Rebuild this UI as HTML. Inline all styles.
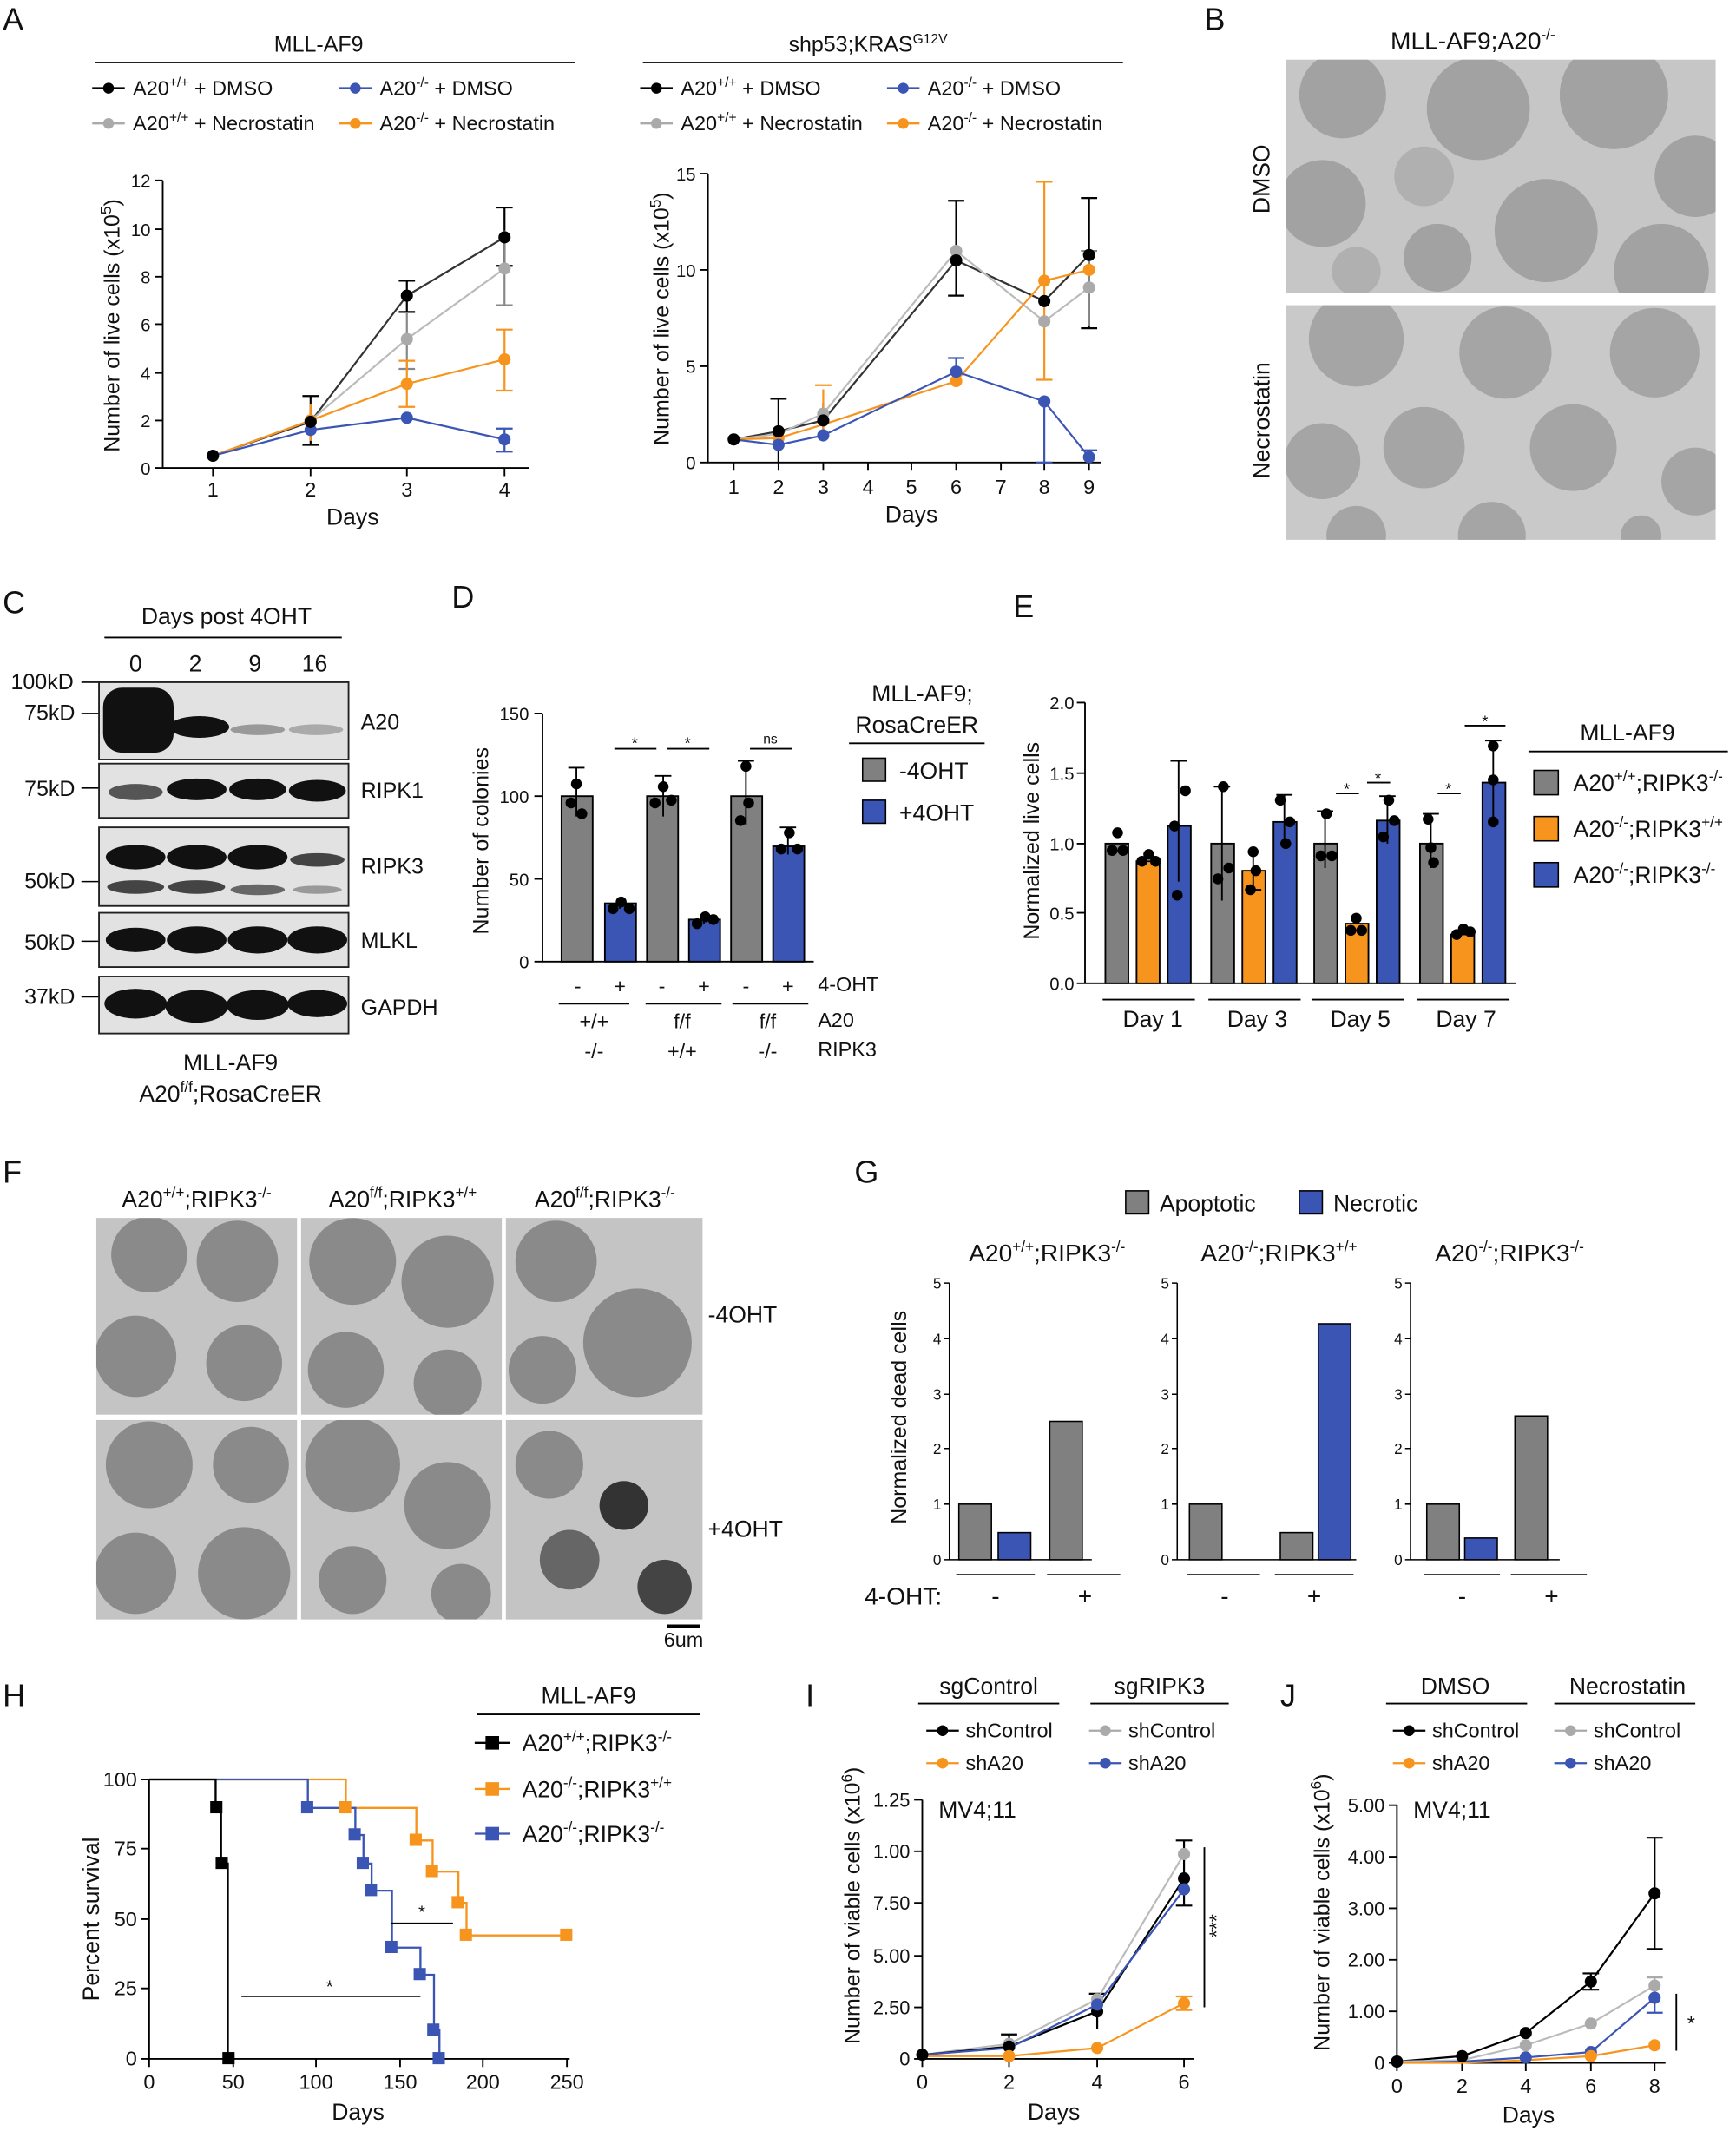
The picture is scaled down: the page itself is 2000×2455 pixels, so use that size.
<!DOCTYPE html>
<html><head><meta charset="utf-8"><style>
html,body{margin:0;padding:0;background:#fff}
svg{display:block}
text{font-family:"Liberation Sans",Arial,sans-serif;fill:#111}
</style></head><body>
<svg width="2000" height="2455" viewBox="0 0 1280 1571.2" xmlns="http://www.w3.org/2000/svg">
<defs>
<clipPath id="cb1"><rect x="948" y="44" width="317" height="172"/></clipPath>
<clipPath id="cb2"><rect x="948" y="225" width="317" height="173"/></clipPath>
<clipPath id="cf"><path d="M71 898h148v145H71zM222 898h148v145H222zM373 898h145v145H373zM71 1047h148v147H71zM222 1047h148v147H222zM373 1047h145v147H373z"/></clipPath>
</defs>
<rect width="1280" height="1572" fill="#fff"/>
<g font-size="23">
<text x="2" y="22">A</text><text x="888" y="22">B</text><text x="2" y="452">C</text>
<text x="333" y="448">D</text><text x="747" y="455">E</text><text x="2" y="872">F</text>
<text x="630" y="872">G</text><text x="2" y="1258">H</text><text x="594" y="1258">I</text><text x="944" y="1258">J</text>
</g>

<!-- ===== A1 ===== -->
<g font-size="15">
<text x="235" y="38" text-anchor="middle" font-size="16">MLL-AF9</text>
<line x1="70" y1="46" x2="424" y2="46" stroke="#000" stroke-width="1.2"/>
<line x1="68" y1="65" x2="92" y2="65" stroke="#000" stroke-width="1.5"/><circle cx="80" cy="65" r="4" fill="#000"/>
<text x="98" y="70">A20<tspan font-size="10" dy="-6">+/+</tspan><tspan dy="6"> + DMSO</tspan></text>
<line x1="250" y1="65" x2="274" y2="65" stroke="#3a55b4" stroke-width="1.5"/><circle cx="262" cy="65" r="4" fill="#3a55b4"/>
<text x="280" y="70">A20<tspan font-size="10" dy="-6">-/-</tspan><tspan dy="6"> + DMSO</tspan></text>
<line x1="68" y1="91" x2="92" y2="91" stroke="#aaa" stroke-width="1.5"/><circle cx="80" cy="91" r="4" fill="#aaa"/>
<text x="98" y="96">A20<tspan font-size="10" dy="-6">+/+</tspan><tspan dy="6"> + Necrostatin</tspan></text>
<line x1="250" y1="91" x2="274" y2="91" stroke="#f7941d" stroke-width="1.5"/><circle cx="262" cy="91" r="4" fill="#f7941d"/>
<text x="280" y="96">A20<tspan font-size="10" dy="-6">-/-</tspan><tspan dy="6"> + Necrostatin</tspan></text>
</g>
<g stroke="#000" stroke-width="1.2" fill="none">
<path d="M120 133V345H390"/>
<path d="M114 345H120M114 310H120M114 275H120M114 239H120M114 204H120M114 169H120M114 133H120"/>
<path d="M157 345V351M229 345V351M300 345V351M372 345V351"/>
</g>
<g font-size="13" text-anchor="end">
<text x="111" y="350">0</text><text x="111" y="315">2</text><text x="111" y="280">4</text><text x="111" y="244">6</text><text x="111" y="209">8</text><text x="111" y="174">10</text><text x="111" y="138">12</text>
</g>
<g font-size="15" text-anchor="middle"><text x="157" y="366">1</text><text x="229" y="366">2</text><text x="300" y="366">3</text><text x="372" y="366">4</text>
<text x="260" y="387" font-size="17">Days</text></g>
<text transform="translate(88,240) rotate(-90)" font-size="16" text-anchor="middle">Number of live cells (x10<tspan font-size="11" dy="-6">5</tspan><tspan dy="6">)</tspan></text>
<g stroke-width="1.4" fill="none">
<path d="M229 292V328M300 207V230M372 153V196M223 292h12M223 328h12M294 207h12M294 230h12M366 153h12M366 196h12" stroke="#000"/>
<path d="M300 230V272M372 170V225M294 272h12M366 225h12" stroke="#888"/>
<path d="M229 298V325M372 243V288M366 243h12M366 288h12M294 266h12M294 300h12M300 266V300" stroke="#f7941d"/>
<path d="M372 316V333M366 316h12M366 333h12" stroke="#3a55b4"/>
<polyline points="157,336 229,311 300,218 372,175" stroke="#333"/>
<polyline points="157,336 229,310 300,250 372,198" stroke="#bbb"/>
<polyline points="157,336 229,310 300,283 372,265" stroke="#f7941d"/>
<polyline points="157,336 229,317 300,308 372,324" stroke="#3a55b4"/>
</g>
<g fill="#aaa"><circle cx="300" cy="250" r="4.5"/><circle cx="372" cy="198" r="4.5"/><circle cx="229" cy="310" r="4.5"/></g>
<g fill="#f7941d"><circle cx="300" cy="283" r="4.5"/><circle cx="372" cy="265" r="4.5"/><circle cx="229" cy="310" r="4.5"/></g>
<g fill="#3a55b4"><circle cx="300" cy="308" r="4.5"/><circle cx="372" cy="324" r="4.5"/><circle cx="229" cy="317" r="4.5"/></g>
<g fill="#000"><circle cx="157" cy="336" r="4.5"/><circle cx="229" cy="311" r="4.5"/><circle cx="300" cy="218" r="4.5"/><circle cx="372" cy="175" r="4.5"/></g>

<!-- ===== A2 ===== -->
<g font-size="15">
<text x="640" y="38" text-anchor="middle" font-size="16">shp53;KRAS<tspan font-size="10" dy="-6">G12V</tspan></text>
<line x1="474" y1="46" x2="828" y2="46" stroke="#000" stroke-width="1.2"/>
<line x1="472" y1="65" x2="496" y2="65" stroke="#000" stroke-width="1.5"/><circle cx="484" cy="65" r="4" fill="#000"/>
<text x="502" y="70">A20<tspan font-size="10" dy="-6">+/+</tspan><tspan dy="6"> + DMSO</tspan></text>
<line x1="654" y1="65" x2="678" y2="65" stroke="#3a55b4" stroke-width="1.5"/><circle cx="666" cy="65" r="4" fill="#3a55b4"/>
<text x="684" y="70">A20<tspan font-size="10" dy="-6">-/-</tspan><tspan dy="6"> + DMSO</tspan></text>
<line x1="472" y1="91" x2="496" y2="91" stroke="#aaa" stroke-width="1.5"/><circle cx="484" cy="91" r="4" fill="#aaa"/>
<text x="502" y="96">A20<tspan font-size="10" dy="-6">+/+</tspan><tspan dy="6"> + Necrostatin</tspan></text>
<line x1="654" y1="91" x2="678" y2="91" stroke="#f7941d" stroke-width="1.5"/><circle cx="666" cy="91" r="4" fill="#f7941d"/>
<text x="684" y="96">A20<tspan font-size="10" dy="-6">-/-</tspan><tspan dy="6"> + Necrostatin</tspan></text>
</g>
<g stroke="#000" stroke-width="1.2" fill="none">
<path d="M522 128V341H812"/>
<path d="M516 341H522M516 270H522M516 199H522M516 128H522"/>
<path d="M541 341v6M574 341v6M607 341v6M640 341v6M672 341v6M705 341v6M738 341v6M770 341v6M803 341v6"/>
</g>
<g font-size="13" text-anchor="end"><text x="513" y="346">0</text><text x="513" y="275">5</text><text x="513" y="204">10</text><text x="513" y="133">15</text></g>
<g font-size="15" text-anchor="middle"><text x="541" y="364">1</text><text x="574" y="364">2</text><text x="607" y="364">3</text><text x="640" y="364">4</text><text x="672" y="364">5</text><text x="705" y="364">6</text><text x="738" y="364">7</text><text x="770" y="364">8</text><text x="803" y="364">9</text>
<text x="672" y="385" font-size="17">Days</text></g>
<text transform="translate(493,235) rotate(-90)" font-size="16" text-anchor="middle">Number of live cells (x10<tspan font-size="11" dy="-6">5</tspan><tspan dy="6">)</tspan></text>
<g stroke-width="1.4" fill="none">
<path d="M574 294V341M607 297V325M705 148V218M803 146V242M568 294h12M699 148h12M699 218h12M797 146h12M797 242h12" stroke="#000"/>
<path d="M607 287V320M770 134V280M601 284h12M764 134h12M764 280h12" stroke="#f7941d"/>
<path d="M770 296V341M705 264V283M803 332V341M764 341h12M699 264h12M797 332h12" stroke="#3a55b4"/>
<path d="M803 185V240M797 185h12" stroke="#888"/>
<polyline points="541,324 574,318 607,310 705,192 770,222 803,188" stroke="#333"/>
<polyline points="541,324 574,320 607,305 705,185 770,237 803,212" stroke="#bbb"/>
<polyline points="541,324 574,323 607,313 705,281 770,207 803,199" stroke="#f7941d"/>
<polyline points="541,324 574,328 607,321 705,274 770,296 803,337" stroke="#3a55b4"/>
</g>
<g fill="#aaa"><circle cx="607" cy="305" r="4.5"/><circle cx="705" cy="185" r="4.5"/><circle cx="770" cy="237" r="4.5"/><circle cx="803" cy="212" r="4.5"/></g>
<g fill="#f7941d"><circle cx="574" cy="323" r="4.5"/><circle cx="705" cy="281" r="4.5"/><circle cx="770" cy="207" r="4.5"/><circle cx="803" cy="199" r="4.5"/></g>
<g fill="#3a55b4"><circle cx="574" cy="328" r="4.5"/><circle cx="607" cy="321" r="4.5"/><circle cx="705" cy="274" r="4.5"/><circle cx="770" cy="296" r="4.5"/><circle cx="803" cy="337" r="4.5"/></g>
<g fill="#000"><circle cx="541" cy="324" r="4.5"/><circle cx="574" cy="318" r="4.5"/><circle cx="607" cy="310" r="4.5"/><circle cx="705" cy="192" r="4.5"/><circle cx="770" cy="222" r="4.5"/><circle cx="803" cy="188" r="4.5"/></g>

<!-- ===== B ===== -->
<text x="1086" y="36" font-size="18" text-anchor="middle">MLL-AF9;A20<tspan font-size="11" dy="-7">-/-</tspan></text>
<text transform="translate(936,132) rotate(-90)" font-size="17" text-anchor="middle">DMSO</text>
<text transform="translate(936,310) rotate(-90)" font-size="17" text-anchor="middle">Necrostatin</text>
<rect x="948" y="44" width="317" height="172" fill="#c6c6c6"/>
<g fill="#a2a2a2" clip-path="url(#cb1)"><circle cx="990" cy="70" r="32"/><circle cx="1090" cy="80" r="38"/><circle cx="1190" cy="70" r="40"/><circle cx="1250" cy="130" r="30"/><circle cx="975" cy="150" r="32"/><circle cx="1140" cy="170" r="38"/><circle cx="1225" cy="200" r="35"/><circle cx="1060" cy="190" r="25"/><circle cx="1050" cy="130" r="22" fill="#b0b0b0"/><circle cx="1000" cy="200" r="18" fill="#b0b0b0"/></g>
<rect x="948" y="225" width="317" height="173" fill="#c9c9c9"/>
<g fill="#a5a5a5" clip-path="url(#cb2)"><circle cx="1000" cy="250" r="35"/><circle cx="1110" cy="260" r="34"/><circle cx="1220" cy="260" r="33"/><circle cx="975" cy="340" r="28"/><circle cx="1050" cy="330" r="30"/><circle cx="1160" cy="330" r="32"/><circle cx="1250" cy="355" r="25"/><circle cx="1000" cy="395" r="22"/><circle cx="1100" cy="395" r="25"/><circle cx="1210" cy="395" r="15"/></g>

<!-- ===== C ===== -->
<text x="167" y="460" font-size="17" text-anchor="middle">Days post 4OHT</text>
<line x1="77" y1="470" x2="252" y2="470" stroke="#000" stroke-width="1.2"/>
<g font-size="17" text-anchor="middle"><text x="100" y="495">0</text><text x="144" y="495">2</text><text x="188" y="495">9</text><text x="232" y="495">16</text></g>
<g font-size="16">
<text x="8" y="508">100kD</text><text x="18" y="531">75kD</text><text x="18" y="587">75kD</text><text x="18" y="655">50kD</text><text x="18" y="700">50kD</text><text x="18" y="740">37kD</text>
<text x="266" y="538">A20</text><text x="266" y="588">RIPK1</text><text x="266" y="644">RIPK3</text><text x="266" y="699">MLKL</text><text x="266" y="748">GAPDH</text>
</g>
<g stroke="#000" stroke-width="1"><path d="M60 503h13M60 526h13M60 581h13M60 650h13M60 694h13M60 735h13"/></g>
<g stroke="#222" stroke-width="1.2" fill="#e2e2e2">
<rect x="73" y="503" width="184" height="57"/><rect x="73" y="563" width="184" height="40"/><rect x="73" y="610" width="184" height="58"/><rect x="73" y="673" width="184" height="40"/><rect x="73" y="720" width="184" height="42"/>
</g>
<g fill="#111">
<rect x="76" y="507" width="52" height="48" rx="14"/><ellipse cx="147" cy="536" rx="22" ry="8"/><ellipse cx="190" cy="538" rx="20" ry="4" fill="#999"/><ellipse cx="233" cy="538" rx="20" ry="4" fill="#aaa"/>
<ellipse cx="100" cy="584" rx="20" ry="6" fill="#555"/><ellipse cx="145" cy="582" rx="22" ry="8"/><ellipse cx="190" cy="582" rx="21" ry="8"/><ellipse cx="234" cy="583" rx="21" ry="8"/>
<ellipse cx="100" cy="632" rx="22" ry="9"/><ellipse cx="145" cy="632" rx="22" ry="9"/><ellipse cx="190" cy="632" rx="22" ry="9"/><ellipse cx="234" cy="634" rx="20" ry="5" fill="#444"/>
<ellipse cx="100" cy="654" rx="21" ry="5" fill="#444"/><ellipse cx="145" cy="654" rx="21" ry="5" fill="#444"/><ellipse cx="190" cy="656" rx="20" ry="4" fill="#666"/><ellipse cx="234" cy="656" rx="18" ry="3" fill="#999"/>
<ellipse cx="100" cy="693" rx="22" ry="9"/><ellipse cx="145" cy="693" rx="22" ry="10"/><ellipse cx="190" cy="693" rx="22" ry="10"/><ellipse cx="234" cy="693" rx="22" ry="10"/>
<ellipse cx="100" cy="740" rx="23" ry="11"/><ellipse cx="145" cy="742" rx="23" ry="12"/><ellipse cx="190" cy="741" rx="23" ry="11"/><ellipse cx="234" cy="740" rx="22" ry="10"/>
</g>
<text x="170" y="789" font-size="17" text-anchor="middle">MLL-AF9</text>
<text x="170" y="812" font-size="17" text-anchor="middle">A20<tspan font-size="11" dy="-7">f/f</tspan><tspan dy="7">;RosaCreER</tspan></text>

<!-- ===== D ===== -->
<g stroke="#000" stroke-width="1.2" fill="none">
<path d="M400 526V709H600M394 709h6M394 648h6M394 587h6M394 526h6"/>
</g>
<g font-size="13" text-anchor="end"><text x="390" y="714">0</text><text x="390" y="653">50</text><text x="390" y="592">100</text><text x="390" y="531">150</text></g>
<text transform="translate(360,620) rotate(-90)" font-size="16" text-anchor="middle">Number of colonies</text>
<g stroke="#000" stroke-width="1.2">
<rect x="414" y="587" width="23" height="122" fill="#808080"/><rect x="446" y="666" width="23" height="43" fill="#3a55b4"/>
<rect x="477" y="587" width="23" height="122" fill="#808080"/><rect x="508" y="678" width="23" height="31" fill="#3a55b4"/>
<rect x="539" y="587" width="23" height="122" fill="#808080"/><rect x="570" y="624" width="23" height="85" fill="#3a55b4"/>
<path d="M425 566V602M419 566h12M457 662V670M489 572V602M483 572h12M519 674V681M550 561V608M544 561h12M581 610V630M575 610h12M453 552h31M492 552h31M553 552h31" fill="none"/>
</g>
<g fill="#000"><circle cx="421" cy="592" r="4"/><circle cx="429" cy="600" r="4"/><circle cx="425" cy="578" r="4"/><circle cx="452" cy="670" r="4"/><circle cx="458" cy="665" r="4"/><circle cx="464" cy="670" r="4"/>
<circle cx="483" cy="592" r="4"/><circle cx="495" cy="590" r="4"/><circle cx="489" cy="580" r="4"/><circle cx="514" cy="681" r="4"/><circle cx="520" cy="676" r="4"/><circle cx="526" cy="678" r="4"/>
<circle cx="546" cy="605" r="4"/><circle cx="552" cy="592" r="4"/><circle cx="550" cy="565" r="4"/><circle cx="576" cy="626" r="4"/><circle cx="582" cy="614" r="4"/><circle cx="588" cy="626" r="4"/></g>
<g font-size="12" text-anchor="middle"><text x="468" y="552">*</text><text x="507" y="552">*</text><text x="568" y="548" font-size="10">ns</text></g>
<g font-size="15" text-anchor="middle">
<text x="426" y="732">-</text><text x="457" y="732">+</text><text x="488" y="732">-</text><text x="519" y="732">+</text><text x="550" y="732">-</text><text x="581" y="732">+</text>
<text x="438" y="758">+/+</text><text x="503" y="758">f/f</text><text x="566" y="758">f/f</text>
<text x="438" y="780">-/-</text><text x="503" y="780">+/+</text><text x="566" y="780">-/-</text>
</g>
<g font-size="15"><text x="603" y="731">4-OHT</text><text x="603" y="757">A20</text><text x="603" y="779">RIPK3</text></g>
<g stroke="#000" stroke-width="1.2"><path d="M412 740h52M476 740h56M540 740h56"/></g>
<text x="680" y="517" font-size="17" text-anchor="middle">MLL-AF9;</text>
<text x="676" y="540" font-size="17" text-anchor="middle">RosaCreER</text>
<line x1="626" y1="548" x2="726" y2="548" stroke="#000" stroke-width="1.2"/>
<rect x="636" y="559" width="17" height="17" fill="#808080" stroke="#000"/><text x="663" y="574" font-size="17">-4OHT</text>
<rect x="636" y="590" width="17" height="17" fill="#3a55b4" stroke="#000"/><text x="663" y="605" font-size="17">+4OHT</text>

<!-- ===== E ===== -->
<g stroke="#000" stroke-width="1.2" fill="none"><path d="M800 518V725H1118M794 725h6M794 673h6M794 622h6M794 570h6M794 518h6"/></g>
<g font-size="13" text-anchor="end"><text x="792" y="730">0.0</text><text x="792" y="678">0.5</text><text x="792" y="627">1.0</text><text x="792" y="575">1.5</text><text x="792" y="523">2.0</text></g>
<text transform="translate(766,620) rotate(-90)" font-size="16" text-anchor="middle">Normalized live cells</text>
<g stroke="#000" stroke-width="1.2">
<rect x="815" y="622" width="17" height="103" fill="#808080"/><rect x="838" y="635" width="17" height="90" fill="#f7941d"/><rect x="861" y="609" width="17" height="116" fill="#3a55b4"/>
<rect x="893" y="622" width="17" height="103" fill="#808080"/><rect x="916" y="642" width="17" height="83" fill="#f7941d"/><rect x="939" y="606" width="17" height="119" fill="#3a55b4"/>
<rect x="969" y="622" width="17" height="103" fill="#808080"/><rect x="992" y="681" width="17" height="44" fill="#f7941d"/><rect x="1015" y="605" width="17" height="120" fill="#3a55b4"/>
<rect x="1047" y="622" width="17" height="103" fill="#808080"/><rect x="1070" y="689" width="17" height="36" fill="#f7941d"/><rect x="1093" y="577" width="17" height="148" fill="#3a55b4"/>
<path fill="none" d="M869 561V650M863 561h12M901 580V664M895 580h12M924 628V656M918 656h12M947 586V622M941 586h12M977 598V640M971 598h12M1023 587V622M1017 587h12M1055 600V640M1049 600h12M1101 546V610M1095 546h12M985 585h17M1008 577h17M1060 585h17M1080 535h30"/>
</g>
<g fill="#000">
<circle cx="820" cy="627" r="4"/><circle cx="828" cy="627" r="4"/><circle cx="824" cy="614" r="4"/><circle cx="842" cy="635" r="4"/><circle cx="852" cy="635" r="4"/><circle cx="847" cy="630" r="4"/><circle cx="868" cy="660" r="4"/><circle cx="874" cy="583" r="4"/><circle cx="866" cy="609" r="4"/>
<circle cx="898" cy="648" r="4"/><circle cx="902" cy="580" r="4"/><circle cx="906" cy="640" r="4"/><circle cx="924" cy="628" r="4"/><circle cx="922" cy="656" r="4"/><circle cx="926" cy="642" r="4"/><circle cx="944" cy="590" r="4"/><circle cx="948" cy="622" r="4"/><circle cx="951" cy="606" r="4"/>
<circle cx="974" cy="631" r="4"/><circle cx="982" cy="631" r="4"/><circle cx="978" cy="600" r="4"/><circle cx="996" cy="686" r="4"/><circle cx="1004" cy="686" r="4"/><circle cx="1000" cy="677" r="4"/><circle cx="1020" cy="617" r="4"/><circle cx="1024" cy="590" r="4"/><circle cx="1028" cy="605" r="4"/>
<circle cx="1053" cy="604" r="4"/><circle cx="1057" cy="636" r="4"/><circle cx="1055" cy="625" r="4"/><circle cx="1074" cy="689" r="4"/><circle cx="1079" cy="685" r="4"/><circle cx="1084" cy="687" r="4"/><circle cx="1101" cy="550" r="4"/><circle cx="1101" cy="575" r="4"/><circle cx="1101" cy="606" r="4"/>
</g>
<g font-size="12" text-anchor="middle"><text x="993" y="586">*</text><text x="1016" y="578">*</text><text x="1068" y="586">*</text><text x="1095" y="536">*</text></g>
<g font-size="17" text-anchor="middle"><text x="850" y="757">Day 1</text><text x="927" y="757">Day 3</text><text x="1003" y="757">Day 5</text><text x="1081" y="757">Day 7</text></g>
<g stroke="#000" stroke-width="1.2"><path d="M813 737h68M891 737h68M967 737h68M1045 737h68"/></g>
<text x="1200" y="546" font-size="17" text-anchor="middle">MLL-AF9</text>
<line x1="1127" y1="554" x2="1274" y2="554" stroke="#000" stroke-width="1.2"/>
<rect x="1131" y="568" width="18" height="18" fill="#808080" stroke="#000"/><text x="1160" y="583" font-size="17">A20<tspan font-size="11" dy="-7">+/+</tspan><tspan dy="7">;RIPK3</tspan><tspan font-size="11" dy="-7">-/-</tspan></text>
<rect x="1131" y="602" width="18" height="18" fill="#f7941d" stroke="#000"/><text x="1160" y="617" font-size="17">A20<tspan font-size="11" dy="-7">-/-</tspan><tspan dy="7">;RIPK3</tspan><tspan font-size="11" dy="-7">+/+</tspan></text>
<rect x="1131" y="636" width="18" height="18" fill="#3a55b4" stroke="#000"/><text x="1160" y="651" font-size="17">A20<tspan font-size="11" dy="-7">-/-</tspan><tspan dy="7">;RIPK3</tspan><tspan font-size="11" dy="-7">-/-</tspan></text>

<!-- ===== F ===== -->
<g font-size="17" text-anchor="middle">
<text x="145" y="890">A20<tspan font-size="11" dy="-7">+/+</tspan><tspan dy="7">;RIPK3</tspan><tspan font-size="11" dy="-7">-/-</tspan></text>
<text x="297" y="890">A20<tspan font-size="11" dy="-7">f/f</tspan><tspan dy="7">;RIPK3</tspan><tspan font-size="11" dy="-7">+/+</tspan></text>
<text x="446" y="890">A20<tspan font-size="11" dy="-7">f/f</tspan><tspan dy="7">;RIPK3</tspan><tspan font-size="11" dy="-7">-/-</tspan></text>
</g>
<g fill="#c4c4c4"><rect x="71" y="898" width="148" height="145"/><rect x="222" y="898" width="148" height="145"/><rect x="373" y="898" width="145" height="145"/><rect x="71" y="1047" width="148" height="147"/><rect x="222" y="1047" width="148" height="147"/><rect x="373" y="1047" width="145" height="147"/></g>
<g fill="#8a8a8a" clip-path="url(#cf)">
<circle cx="110" cy="925" r="28"/><circle cx="175" cy="930" r="30"/><circle cx="100" cy="1000" r="30"/><circle cx="180" cy="1005" r="28"/>
<circle cx="260" cy="930" r="32"/><circle cx="330" cy="945" r="34"/><circle cx="255" cy="1010" r="28"/><circle cx="330" cy="1020" r="25"/>
<circle cx="410" cy="930" r="30"/><circle cx="470" cy="990" r="40"/><circle cx="400" cy="1010" r="25"/>
<circle cx="110" cy="1080" r="32"/><circle cx="185" cy="1080" r="28"/><circle cx="100" cy="1160" r="30"/><circle cx="180" cy="1160" r="34"/>
<circle cx="260" cy="1080" r="35"/><circle cx="330" cy="1110" r="32"/><circle cx="260" cy="1165" r="25"/><circle cx="340" cy="1175" r="22"/>
<circle cx="405" cy="1080" r="25"/><circle cx="460" cy="1110" r="18" fill="#333"/><circle cx="420" cy="1150" r="22" fill="#666"/><circle cx="490" cy="1170" r="20" fill="#444"/>
</g>
<g font-size="17"><text x="522" y="975">-4OHT</text><text x="522" y="1133">+4OHT</text></g>
<line x1="492" y1="1199" x2="516" y2="1199" stroke="#000" stroke-width="2.5"/>
<text x="504" y="1214" font-size="15" text-anchor="middle">6um</text>

<!-- ===== G ===== -->
<rect x="830" y="878" width="17" height="17" fill="#808080" stroke="#000"/><text x="855" y="893" font-size="17">Apoptotic</text>
<rect x="958" y="878" width="17" height="17" fill="#3a55b4" stroke="#000"/><text x="983" y="893" font-size="17">Necrotic</text>
<g font-size="18" text-anchor="middle">
<text x="772" y="930">A20<tspan font-size="11" dy="-7">+/+</tspan><tspan dy="7">;RIPK3</tspan><tspan font-size="11" dy="-7">-/-</tspan></text>
<text x="943" y="930">A20<tspan font-size="11" dy="-7">-/-</tspan><tspan dy="7">;RIPK3</tspan><tspan font-size="11" dy="-7">+/+</tspan></text>
<text x="1113" y="930">A20<tspan font-size="11" dy="-7">-/-</tspan><tspan dy="7">;RIPK3</tspan><tspan font-size="11" dy="-7">-/-</tspan></text>
</g>
<text transform="translate(668,1045) rotate(-90)" font-size="16" text-anchor="middle">Normalized dead cells</text>
<g stroke="#000" stroke-width="1" fill="none">
<path d="M700 946V1150H805M696 1150h4M696 1109h4M696 1068h4M696 1028h4M696 987h4M696 946h4"/>
<path d="M868 946V1150H1000M864 1150h4M864 1109h4M864 1068h4M864 1028h4M864 987h4M864 946h4"/>
<path d="M1040 946V1150H1150M1036 1150h4M1036 1109h4M1036 1068h4M1036 1028h4M1036 987h4M1036 946h4"/>
</g>
<g font-size="11" text-anchor="end">
<text x="694" y="1154">0</text><text x="694" y="1113">1</text><text x="694" y="1072">2</text><text x="694" y="1032">3</text><text x="694" y="991">4</text><text x="694" y="950">5</text>
<text x="862" y="1154">0</text><text x="862" y="1113">1</text><text x="862" y="1072">2</text><text x="862" y="1032">3</text><text x="862" y="991">4</text><text x="862" y="950">5</text>
<text x="1034" y="1154">0</text><text x="1034" y="1113">1</text><text x="1034" y="1072">2</text><text x="1034" y="1032">3</text><text x="1034" y="991">4</text><text x="1034" y="950">5</text>
</g>
<g stroke="#000" stroke-width="1">
<rect x="707" y="1109" width="24" height="41" fill="#808080"/><rect x="736" y="1130" width="24" height="20" fill="#3a55b4"/><rect x="774" y="1048" width="24" height="102" fill="#808080"/>
<rect x="877" y="1109" width="24" height="41" fill="#808080"/><rect x="944" y="1130" width="24" height="20" fill="#808080"/><rect x="972" y="976" width="24" height="174" fill="#3a55b4"/>
<rect x="1052" y="1109" width="24" height="41" fill="#808080"/><rect x="1080" y="1134" width="24" height="16" fill="#3a55b4"/><rect x="1117" y="1044" width="24" height="106" fill="#808080"/>
<path d="M705 1161h58M772 1161h54M875 1161h54M940 1161h58M1050 1161h56M1114 1161h56"/>
</g>
<g font-size="18" text-anchor="middle">
<text x="666" y="1183">4-OHT:</text><text x="734" y="1183">-</text><text x="800" y="1183">+</text><text x="903" y="1183">-</text><text x="969" y="1183">+</text><text x="1078" y="1183">-</text><text x="1144" y="1183">+</text>
</g>

<!-- ===== H ===== -->
<text x="434" y="1256" font-size="17" text-anchor="middle">MLL-AF9</text>
<line x1="352" y1="1264" x2="516" y2="1264" stroke="#000" stroke-width="1.2"/>
<line x1="350" y1="1285" x2="376" y2="1285" stroke="#000" stroke-width="1.5"/><rect x="358" y="1280" width="10" height="10" fill="#000"/>
<text x="385" y="1291" font-size="17">A20<tspan font-size="11" dy="-7">+/+</tspan><tspan dy="7">;RIPK3</tspan><tspan font-size="11" dy="-7">-/-</tspan></text>
<line x1="350" y1="1319" x2="376" y2="1319" stroke="#f7941d" stroke-width="1.5"/><rect x="358" y="1314" width="10" height="10" fill="#f7941d"/>
<text x="385" y="1325" font-size="17">A20<tspan font-size="11" dy="-7">-/-</tspan><tspan dy="7">;RIPK3</tspan><tspan font-size="11" dy="-7">+/+</tspan></text>
<line x1="350" y1="1352" x2="376" y2="1352" stroke="#3a55b4" stroke-width="1.5"/><rect x="358" y="1347" width="10" height="10" fill="#3a55b4"/>
<text x="385" y="1358" font-size="17">A20<tspan font-size="11" dy="-7">-/-</tspan><tspan dy="7">;RIPK3</tspan><tspan font-size="11" dy="-7">-/-</tspan></text>
<g stroke="#000" stroke-width="1.2" fill="none">
<path d="M110 1312V1518H420M104 1518h6M104 1466h6M104 1415h6M104 1363h6M104 1312h6"/>
<path d="M110 1518v6M172 1518v6M233 1518v6M295 1518v6M356 1518v6M418 1518v6"/>
</g>
<g font-size="15" text-anchor="end"><text x="101" y="1523">0</text><text x="101" y="1471">25</text><text x="101" y="1420">50</text><text x="101" y="1368">75</text><text x="101" y="1317">100</text></g>
<g font-size="15" text-anchor="middle"><text x="110" y="1540">0</text><text x="172" y="1540">50</text><text x="233" y="1540">100</text><text x="295" y="1540">150</text><text x="356" y="1540">200</text><text x="418" y="1540">250</text>
<text x="264" y="1563" font-size="17">Days</text></g>
<text transform="translate(73,1415) rotate(-90)" font-size="17" text-anchor="middle">Percent survival</text>
<g fill="none" stroke-width="1.5">
<path d="M110 1312H255V1333H307V1357H319V1380H338V1403H344V1427H418" stroke="#f7941d"/>
<path d="M110 1312H227V1333H255V1333H262V1353H268V1374H274V1394H289V1436H310V1456H320V1497H324V1518" stroke="#3a55b4"/>
<path d="M110 1312H159V1333H163V1374H168V1518" stroke="#000"/>
</g>
<g fill="#f7941d"><rect x="250" y="1328" width="9" height="9"/><rect x="302" y="1352" width="9" height="9"/><rect x="314" y="1375" width="9" height="9"/><rect x="333" y="1398" width="9" height="9"/><rect x="339" y="1422" width="9" height="9"/><rect x="413" y="1422" width="9" height="9"/></g>
<g fill="#3a55b4"><rect x="222" y="1328" width="9" height="9"/><rect x="257" y="1348" width="9" height="9"/><rect x="263" y="1369" width="9" height="9"/><rect x="269" y="1389" width="9" height="9"/><rect x="284" y="1431" width="9" height="9"/><rect x="305" y="1451" width="9" height="9"/><rect x="315" y="1492" width="9" height="9"/><rect x="319" y="1513" width="9" height="9"/></g>
<g fill="#000"><rect x="155" y="1328" width="9" height="9"/><rect x="159" y="1369" width="9" height="9"/><rect x="164" y="1513" width="9" height="9"/></g>
<g stroke="#000" stroke-width="1"><path d="M178 1472h132M288 1418h46"/></g>
<g font-size="13" text-anchor="middle"><text x="243" y="1469">*</text><text x="311" y="1414">*</text></g>

<!-- ===== I ===== -->
<g font-size="17" text-anchor="middle"><text x="729" y="1249">sgControl</text><text x="855" y="1249">sgRIPK3</text></g>
<g stroke="#000" stroke-width="1.2"><path d="M677 1256h104M804 1256h102"/></g>
<g font-size="15">
<line x1="683" y1="1276" x2="707" y2="1276" stroke="#000" stroke-width="1.5"/><circle cx="695" cy="1276" r="4" fill="#000"/><text x="712" y="1281">shControl</text>
<line x1="683" y1="1300" x2="707" y2="1300" stroke="#f7941d" stroke-width="1.5"/><circle cx="695" cy="1300" r="4" fill="#f7941d"/><text x="712" y="1305">shA20</text>
<line x1="803" y1="1276" x2="827" y2="1276" stroke="#aaa" stroke-width="1.5"/><circle cx="815" cy="1276" r="4" fill="#aaa"/><text x="832" y="1281">shControl</text>
<line x1="803" y1="1300" x2="827" y2="1300" stroke="#3a55b4" stroke-width="1.5"/><circle cx="815" cy="1300" r="4" fill="#3a55b4"/><text x="832" y="1305">shA20</text>
</g>
<text x="692" y="1340" font-size="17">MV4;11</text>
<g stroke="#000" stroke-width="1.2" fill="none">
<path d="M680 1327V1518H880M674 1518h6M674 1480h6M674 1442h6M674 1403h6M674 1365h6M674 1327h6"/>
<path d="M680 1518v6M744 1518v6M809 1518v6M873 1518v6"/>
</g>
<g font-size="14" text-anchor="end"><text x="671" y="1523">0</text><text x="671" y="1485">2.50</text><text x="671" y="1447">5.00</text><text x="671" y="1408">7.50</text><text x="671" y="1370">1.00</text><text x="671" y="1332">1.25</text></g>
<g font-size="15" text-anchor="middle"><text x="680" y="1540">0</text><text x="744" y="1540">2</text><text x="809" y="1540">4</text><text x="873" y="1540">6</text><text x="777" y="1563" font-size="17">Days</text></g>
<text transform="translate(634,1405) rotate(-90)" font-size="16" text-anchor="middle">Number of viable cells (x10<tspan font-size="11" dy="-6">6</tspan><tspan dy="6">)</tspan></text>
<g fill="none" stroke-width="1.4">
<path d="M809 1470V1496M803 1470h12M873 1357V1405M867 1357h12M867 1405h12M744 1500V1516M738 1500h12" stroke="#000"/>
<path d="M873 1472V1482M867 1472h12M867 1482h12" stroke="#f7941d"/>
<polyline points="680,1515 744,1507 809,1474 873,1367" stroke="#bbb"/>
<polyline points="680,1515 744,1509 809,1483 873,1385" stroke="#000"/>
<polyline points="680,1515 744,1510 809,1478 873,1393" stroke="#3a55b4"/>
<polyline points="680,1516 744,1516 809,1510 873,1477" stroke="#f7941d"/>
</g>
<g fill="#aaa"><circle cx="744" cy="1507" r="4.5"/><circle cx="809" cy="1474" r="4.5"/><circle cx="873" cy="1367" r="4.5"/></g>
<g fill="#000"><circle cx="680" cy="1515" r="4.5"/><circle cx="744" cy="1509" r="4.5"/><circle cx="809" cy="1483" r="4.5"/><circle cx="873" cy="1385" r="4.5"/></g>
<g fill="#3a55b4"><circle cx="809" cy="1478" r="4.5"/><circle cx="873" cy="1393" r="4.5"/></g>
<g fill="#f7941d"><circle cx="744" cy="1516" r="4.5"/><circle cx="809" cy="1510" r="4.5"/><circle cx="873" cy="1477" r="4.5"/></g>
<line x1="888" y1="1362" x2="888" y2="1480" stroke="#000" stroke-width="1.2"/>
<text transform="translate(902,1420) rotate(-90)" font-size="15" text-anchor="middle">***</text>

<!-- ===== J ===== -->
<g font-size="17" text-anchor="middle"><text x="1073" y="1249">DMSO</text><text x="1200" y="1249">Necrostatin</text></g>
<g stroke="#000" stroke-width="1.2"><path d="M1022 1256h104M1146 1256h104"/></g>
<g font-size="15">
<line x1="1027" y1="1276" x2="1051" y2="1276" stroke="#000" stroke-width="1.5"/><circle cx="1039" cy="1276" r="4" fill="#000"/><text x="1056" y="1281">shControl</text>
<line x1="1027" y1="1300" x2="1051" y2="1300" stroke="#f7941d" stroke-width="1.5"/><circle cx="1039" cy="1300" r="4" fill="#f7941d"/><text x="1056" y="1305">shA20</text>
<line x1="1146" y1="1276" x2="1170" y2="1276" stroke="#aaa" stroke-width="1.5"/><circle cx="1158" cy="1276" r="4" fill="#aaa"/><text x="1175" y="1281">shControl</text>
<line x1="1146" y1="1300" x2="1170" y2="1300" stroke="#3a55b4" stroke-width="1.5"/><circle cx="1158" cy="1300" r="4" fill="#3a55b4"/><text x="1175" y="1305">shA20</text>
</g>
<text x="1042" y="1340" font-size="17">MV4;11</text>
<g stroke="#000" stroke-width="1.2" fill="none">
<path d="M1030 1331V1521H1228M1024 1521h6M1024 1483h6M1024 1445h6M1024 1407h6M1024 1369h6M1024 1331h6"/>
<path d="M1030 1521v6M1078 1521v6M1125 1521v6M1173 1521v6M1220 1521v6"/>
</g>
<g font-size="14" text-anchor="end"><text x="1021" y="1526">0</text><text x="1021" y="1488">1.00</text><text x="1021" y="1450">2.00</text><text x="1021" y="1412">3.00</text><text x="1021" y="1374">4.00</text><text x="1021" y="1336">5.00</text></g>
<g font-size="15" text-anchor="middle"><text x="1030" y="1543">0</text><text x="1078" y="1543">2</text><text x="1125" y="1543">4</text><text x="1173" y="1543">6</text><text x="1220" y="1543">8</text><text x="1127" y="1565" font-size="17">Days</text></g>
<text transform="translate(980,1410) rotate(-90)" font-size="16" text-anchor="middle">Number of viable cells (x10<tspan font-size="11" dy="-6">6</tspan><tspan dy="6">)</tspan></text>
<g fill="none" stroke-width="1.4">
<path d="M1220 1355V1437M1214 1355h12M1214 1437h12M1173 1455V1467M1167 1455h12M1167 1467h12" stroke="#000"/>
<path d="M1220 1458V1470M1214 1458h12" stroke="#aaa"/>
<path d="M1220 1464V1484M1214 1484h12" stroke="#3a55b4"/>
<polyline points="1030,1520 1078,1516 1125,1499 1173,1461 1220,1396" stroke="#000"/>
<polyline points="1030,1520 1078,1519 1125,1508 1173,1492 1220,1464" stroke="#bbb"/>
<polyline points="1030,1521 1078,1520 1125,1517 1173,1513 1220,1473" stroke="#3a55b4"/>
<polyline points="1030,1521 1078,1521 1125,1519 1173,1516 1220,1508" stroke="#f7941d"/>
</g>
<g fill="#000"><circle cx="1030" cy="1520" r="4.5"/><circle cx="1078" cy="1516" r="4.5"/><circle cx="1125" cy="1499" r="4.5"/><circle cx="1173" cy="1461" r="4.5"/><circle cx="1220" cy="1396" r="4.5"/></g>
<g fill="#aaa"><circle cx="1125" cy="1508" r="4.5"/><circle cx="1173" cy="1492" r="4.5"/><circle cx="1220" cy="1464" r="4.5"/></g>
<g fill="#3a55b4"><circle cx="1125" cy="1517" r="4.5"/><circle cx="1173" cy="1513" r="4.5"/><circle cx="1220" cy="1473" r="4.5"/></g>
<g fill="#f7941d"><circle cx="1173" cy="1516" r="4.5"/><circle cx="1220" cy="1508" r="4.5"/></g>
<line x1="1236" y1="1470" x2="1236" y2="1512" stroke="#000" stroke-width="1.2"/>
<text x="1244" y="1497" font-size="15">*</text>
</svg>
</body></html>
